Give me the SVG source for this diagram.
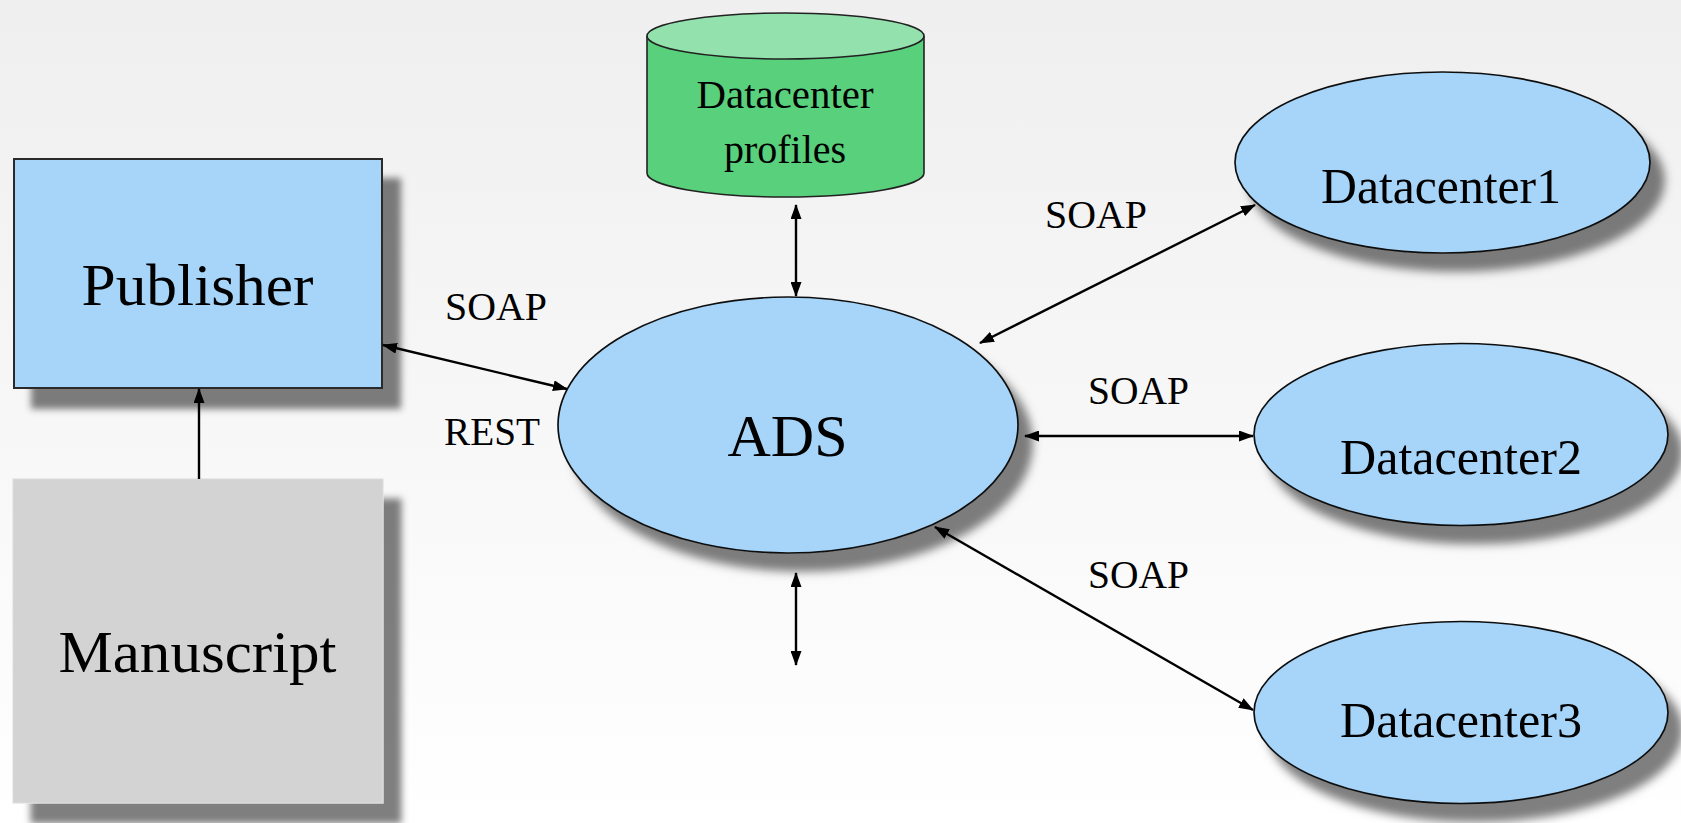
<svg xmlns="http://www.w3.org/2000/svg" width="1681" height="823" viewBox="0 0 1681 823">
<defs>
<linearGradient id="bg" x1="0" y1="0" x2="0" y2="1">
<stop offset="0" stop-color="#efefef"/>
<stop offset="1" stop-color="#ffffff"/>
</linearGradient>
<filter id="shadow" x="-20%" y="-20%" width="150%" height="150%">
<feDropShadow dx="18" dy="20" stdDeviation="3.5" flood-color="#000" flood-opacity="0.5"/>
</filter>
<filter id="shadowE" x="-20%" y="-20%" width="150%" height="150%">
<feDropShadow dx="14" dy="18" stdDeviation="5" flood-color="#000" flood-opacity="0.5"/>
</filter>
<marker id="ah" viewBox="0 0 15 11" refX="14" refY="5.5" markerWidth="15" markerHeight="11" markerUnits="userSpaceOnUse" orient="auto-start-reverse">
<path d="M0,0 L15,5.5 L0,11 Z" fill="#000"/>
</marker>
</defs>
<style>
.box{stroke:#2b2b2b;stroke-width:2}
.ell{fill:#a6d5f9;stroke:#111;stroke-width:1.7}
.lbl{font-family:"Liberation Serif","Times New Roman",serif;fill:#000}
.conn{stroke:#000;stroke-width:2.4;fill:none}
</style>
<rect x="0" y="0" width="1681" height="823" fill="url(#bg)"/>

<g id="publisher">
<rect class="box" x="14" y="159" width="368" height="229" fill="#a6d5f9" filter="url(#shadow)"/>
<text class="lbl" x="197.5" y="305" font-size="60" text-anchor="middle" textLength="232" lengthAdjust="spacingAndGlyphs">Publisher</text>
</g>

<g id="manuscript">
<rect x="13" y="479" width="370" height="324" fill="#d3d3d3" stroke="#dcdcdc" stroke-width="1" filter="url(#shadow)"/>
<text class="lbl" x="197.5" y="672" font-size="60" text-anchor="middle" textLength="278" lengthAdjust="spacingAndGlyphs">Manuscript</text>
</g>

<g id="datacenter-profiles">
<path d="M647,36 L647,173 A138.5,24 0 0 0 924,173 L924,36" fill="#59d07b" stroke="#222" stroke-width="1.6"/>
<ellipse cx="785.5" cy="36" rx="138.5" ry="23" fill="#93e2ae" stroke="#222" stroke-width="1.6"/>
<text class="lbl" x="785" y="108" font-size="40" text-anchor="middle" textLength="177" lengthAdjust="spacingAndGlyphs">Datacenter</text>
<text class="lbl" x="785" y="163" font-size="40" text-anchor="middle">profiles</text>
</g>

<g id="ads">
<ellipse class="ell" cx="788" cy="425" rx="230" ry="128" filter="url(#shadowE)"/>
<text class="lbl" x="787.5" y="456" font-size="60" text-anchor="middle">ADS</text>
</g>

<g id="datacenter1">
<ellipse class="ell" cx="1442.5" cy="162.5" rx="207.5" ry="90.5" filter="url(#shadowE)"/>
<text class="lbl" x="1441" y="203" font-size="51" text-anchor="middle" textLength="240" lengthAdjust="spacingAndGlyphs">Datacenter1</text>
</g>

<g id="datacenter2">
<ellipse class="ell" cx="1461" cy="434.5" rx="207" ry="91" filter="url(#shadowE)"/>
<text class="lbl" x="1461" y="474" font-size="51" text-anchor="middle" textLength="242" lengthAdjust="spacingAndGlyphs">Datacenter2</text>
</g>

<g id="datacenter3">
<ellipse class="ell" cx="1461" cy="712.5" rx="207" ry="91" filter="url(#shadowE)"/>
<text class="lbl" x="1461" y="737" font-size="51" text-anchor="middle" textLength="242" lengthAdjust="spacingAndGlyphs">Datacenter3</text>
</g>

<g id="connectors">
<line class="conn" x1="199" y1="479" x2="199" y2="389" marker-end="url(#ah)"/>
<line class="conn" x1="383" y1="345" x2="567" y2="389" marker-start="url(#ah)" marker-end="url(#ah)"/>
<line class="conn" x1="796" y1="205" x2="796" y2="296" marker-start="url(#ah)" marker-end="url(#ah)"/>
<line class="conn" x1="796" y1="573" x2="796" y2="665" marker-start="url(#ah)" marker-end="url(#ah)"/>
<line class="conn" x1="980" y1="343" x2="1255" y2="205" marker-start="url(#ah)" marker-end="url(#ah)"/>
<line class="conn" x1="1025" y1="436" x2="1253" y2="436" marker-start="url(#ah)" marker-end="url(#ah)"/>
<line class="conn" x1="935" y1="527" x2="1253" y2="710" marker-start="url(#ah)" marker-end="url(#ah)"/>
<text class="lbl" x="445" y="320" font-size="39" textLength="102" lengthAdjust="spacingAndGlyphs">SOAP</text>
<text class="lbl" x="444" y="445" font-size="39" textLength="96" lengthAdjust="spacingAndGlyphs">REST</text>
<text class="lbl" x="1045" y="228" font-size="39" textLength="102" lengthAdjust="spacingAndGlyphs">SOAP</text>
<text class="lbl" x="1088" y="404" font-size="39" textLength="101" lengthAdjust="spacingAndGlyphs">SOAP</text>
<text class="lbl" x="1088" y="588" font-size="39" textLength="101" lengthAdjust="spacingAndGlyphs">SOAP</text>
</g>
</svg>
